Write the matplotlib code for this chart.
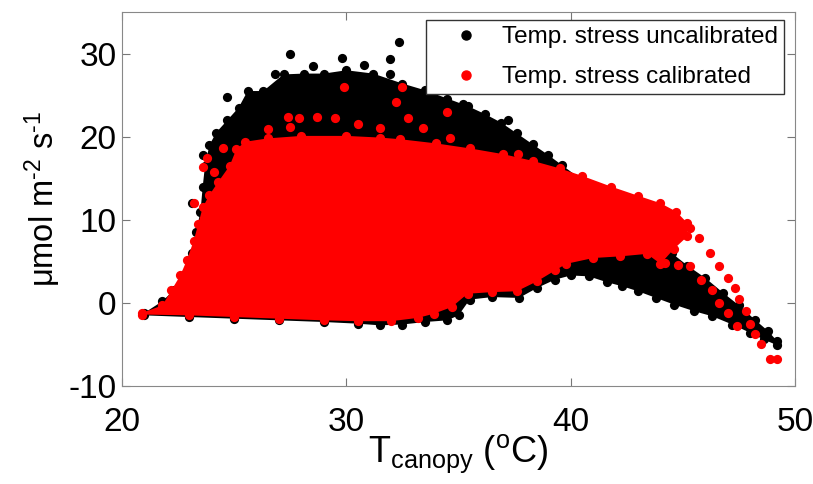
import numpy as np
import matplotlib
matplotlib.use("Agg")
import matplotlib.pyplot as plt

plt.rcParams['font.family'] = ['Liberation Sans', 'DejaVu Sans']
plt.rcParams['mathtext.fontset'] = 'custom'
plt.rcParams['mathtext.rm'] = 'Liberation Sans'
plt.rcParams['mathtext.it'] = 'Liberation Sans'
plt.rcParams['axes.unicode_minus'] = False

# uncalibrated cloud: top edge and bottom edge (left -> right)
unc_top_x = [21.0, 21.8, 22.3, 22.8, 23.1, 23.3, 23.5, 23.6, 23.7, 23.9, 24.2, 24.7, 25.2, 25.6,
             26.3, 27.2, 28.1, 29.0, 30.0, 31.2, 32.5, 33.5, 34.5, 35.4, 36.2, 36.9, 37.6, 38.3,
             39.0, 39.6, 40.5, 41.5, 42.5, 43.2, 43.8, 44.5, 45.2, 46.0, 46.8, 47.5, 48.2, 48.8, 49.2]
unc_top_y = [-1.2, 0.2, 1.5, 3.5, 6.0, 8.5, 11.0, 14.0, 16.5, 19.0, 20.5, 22.0, 23.5, 25.5,
             25.5, 27.5, 27.6, 27.6, 28.0, 27.6, 26.4, 25.6, 24.6, 23.7, 22.7, 21.7, 20.4, 19.1,
             17.8, 16.6, 14.8, 13.0, 11.0, 9.0, 7.4, 6.0, 4.5, 3.0, 1.2, -0.3, -2.0, -3.4, -4.6]
unc_bot_x = [21.0, 23.0, 25.0, 27.0, 29.0, 30.5, 31.5, 32.5, 33.5, 34.5, 35.0, 35.5, 36.5, 37.7,
             38.5, 39.3, 40.0, 40.8, 41.6, 42.3, 43.0, 43.8, 44.6, 45.5, 46.3, 47.2, 48.0, 48.6, 49.2]
unc_bot_y = [-1.5, -1.7, -1.9, -2.1, -2.3, -2.5, -2.7, -2.6, -2.3, -2.1, -1.5, 0.4, 0.7, 0.6,
             1.8, 2.8, 3.3, 3.2, 2.5, 2.0, 1.4, 0.6, -0.2, -1.0, -1.6, -2.6, -3.6, -4.4, -5.1]
unc_out_x = [32.35, 27.5, 29.8, 31.95, 31.95, 24.7, 23.6, 23.1, 37.2, 35.2, 26.8, 28.5, 30.8, 40.0]
unc_out_y = [31.4, 29.9, 29.5, 29.3, 27.6, 24.8, 17.8, 12.0, 22.0, 23.9, 27.5, 28.5, 28.6, 3.5]

# calibrated cloud
cal_top_x = [20.9, 21.8, 22.2, 22.6, 22.9, 23.2, 23.4, 23.6, 23.9, 24.3, 24.8, 25.1, 25.5, 26.5,
             28.0, 30.0, 31.5, 32.4, 34.0, 35.5, 37.0, 38.3, 39.5, 40.5, 41.8, 43.0, 44.0, 44.7, 45.2]
cal_top_y = [-1.2, -0.3, 1.5, 3.3, 5.2, 7.5, 9.5, 11.5, 13.0, 14.6, 16.5, 18.5, 19.4, 19.8,
             20.1, 20.1, 19.9, 19.7, 19.2, 18.6, 17.9, 17.1, 16.2, 15.3, 14.0, 12.9, 12.0, 11.0, 9.6]
cal_bot_x = [20.9, 23.0, 25.0, 27.0, 29.0, 30.5, 32.0, 33.2, 33.9, 34.7, 35.4, 36.5, 37.6, 38.5,
             39.3, 39.8, 41.0, 42.2, 43.4, 44.0, 44.6, 45.2]
cal_bot_y = [-1.4, -1.5, -1.7, -1.9, -2.1, -2.2, -2.2, -1.8, -1.3, -0.5, 1.1, 1.3, 1.4, 2.6,
             3.9, 4.7, 5.4, 5.6, 5.9, 4.7, 6.5, 8.0]
cal_out_x = [29.9, 32.5, 32.2, 32.75, 33.4, 34.5, 34.6, 37.65, 27.4, 27.9, 28.7, 26.5, 27.5, 29.5,
             30.5, 31.5, 23.2, 23.6, 24.1, 24.5, 23.8,
             45.3, 45.7, 46.2, 46.6, 47.0, 47.3, 47.5, 47.8, 48.0, 48.2, 48.5, 48.9, 49.2,
             44.2, 44.8, 45.3, 45.8, 46.3, 46.6, 47.0, 47.4]
cal_out_y = [26.0, 26.0, 24.2, 22.2, 21.0, 23.0, 19.8, 17.9, 22.4, 22.2, 22.4, 20.9, 21.2, 22.2,
             21.5, 21.0, 12.0, 16.4, 15.8, 18.6, 17.5,
             9.0, 7.8, 6.0, 4.5, 3.0, 1.8, 0.5, -1.0, -2.5, -3.8, -5.0, -6.7, -6.8,
             4.8, 4.6, 4.4, 2.8, 1.6, 0.0, -1.2, -2.8]

fig = plt.figure(figsize=(8.13, 4.84), dpi=100)
ax = fig.add_axes([0.150, 0.2025, 0.828, 0.7725])

def cloud(top_x, top_y, bot_x, bot_y, out_x, out_y, col, lab):
    px = np.concatenate([top_x, bot_x[::-1]])
    py = np.concatenate([top_y, bot_y[::-1]])
    ax.fill(px, py, color=col, lw=0)
    ax.scatter(np.concatenate([top_x, bot_x, out_x]), np.concatenate([top_y, bot_y, out_y]),
               s=44, c=col, linewidths=0)
    ax.plot([], [], 'o', color=col, ms=6.5, label=lab)

cloud(unc_top_x, unc_top_y, unc_bot_x, unc_bot_y, unc_out_x, unc_out_y, 'black',
      'Temp. stress uncalibrated')
cloud(cal_top_x, cal_top_y, cal_bot_x, cal_bot_y, cal_out_x, cal_out_y, 'red',
      'Temp. stress calibrated')

ax.set_xlim(20, 50)
ax.set_ylim(-10, 35)
ax.set_xticks([20, 30, 40, 50])
ax.set_yticks([-10, 0, 10, 20, 30])
ax.tick_params(direction='in', top=True, right=True, labelsize=24, length=6,
               color='#777777')
ax.tick_params(axis='x', pad=15)
ax.tick_params(axis='y', pad=4)
for s in ax.spines.values():
    s.set_color('#888888')
ax.set_xlabel(r'T$_{\rm canopy}$ ($^{\rm o}$C)', fontsize=26, labelpad=-4)
# hyphen (U+2010) so the exponents show a short dash like the original
ax.set_ylabel('\u03bcmol m$^{\u20102}$ s$^{\u20101}$', fontsize=23.5, labelpad=4)

leg = ax.legend(loc='upper right', bbox_to_anchor=(0.984, 0.979), fontsize=17.5,
                frameon=True, fancybox=False, framealpha=1, edgecolor='#333333',
                handletextpad=0.1, borderpad=0.25, labelspacing=0.75, handlelength=2.8,
                borderaxespad=0)
leg.get_frame().set_linewidth(1.0)

fig.savefig('out.png', dpi=100)
